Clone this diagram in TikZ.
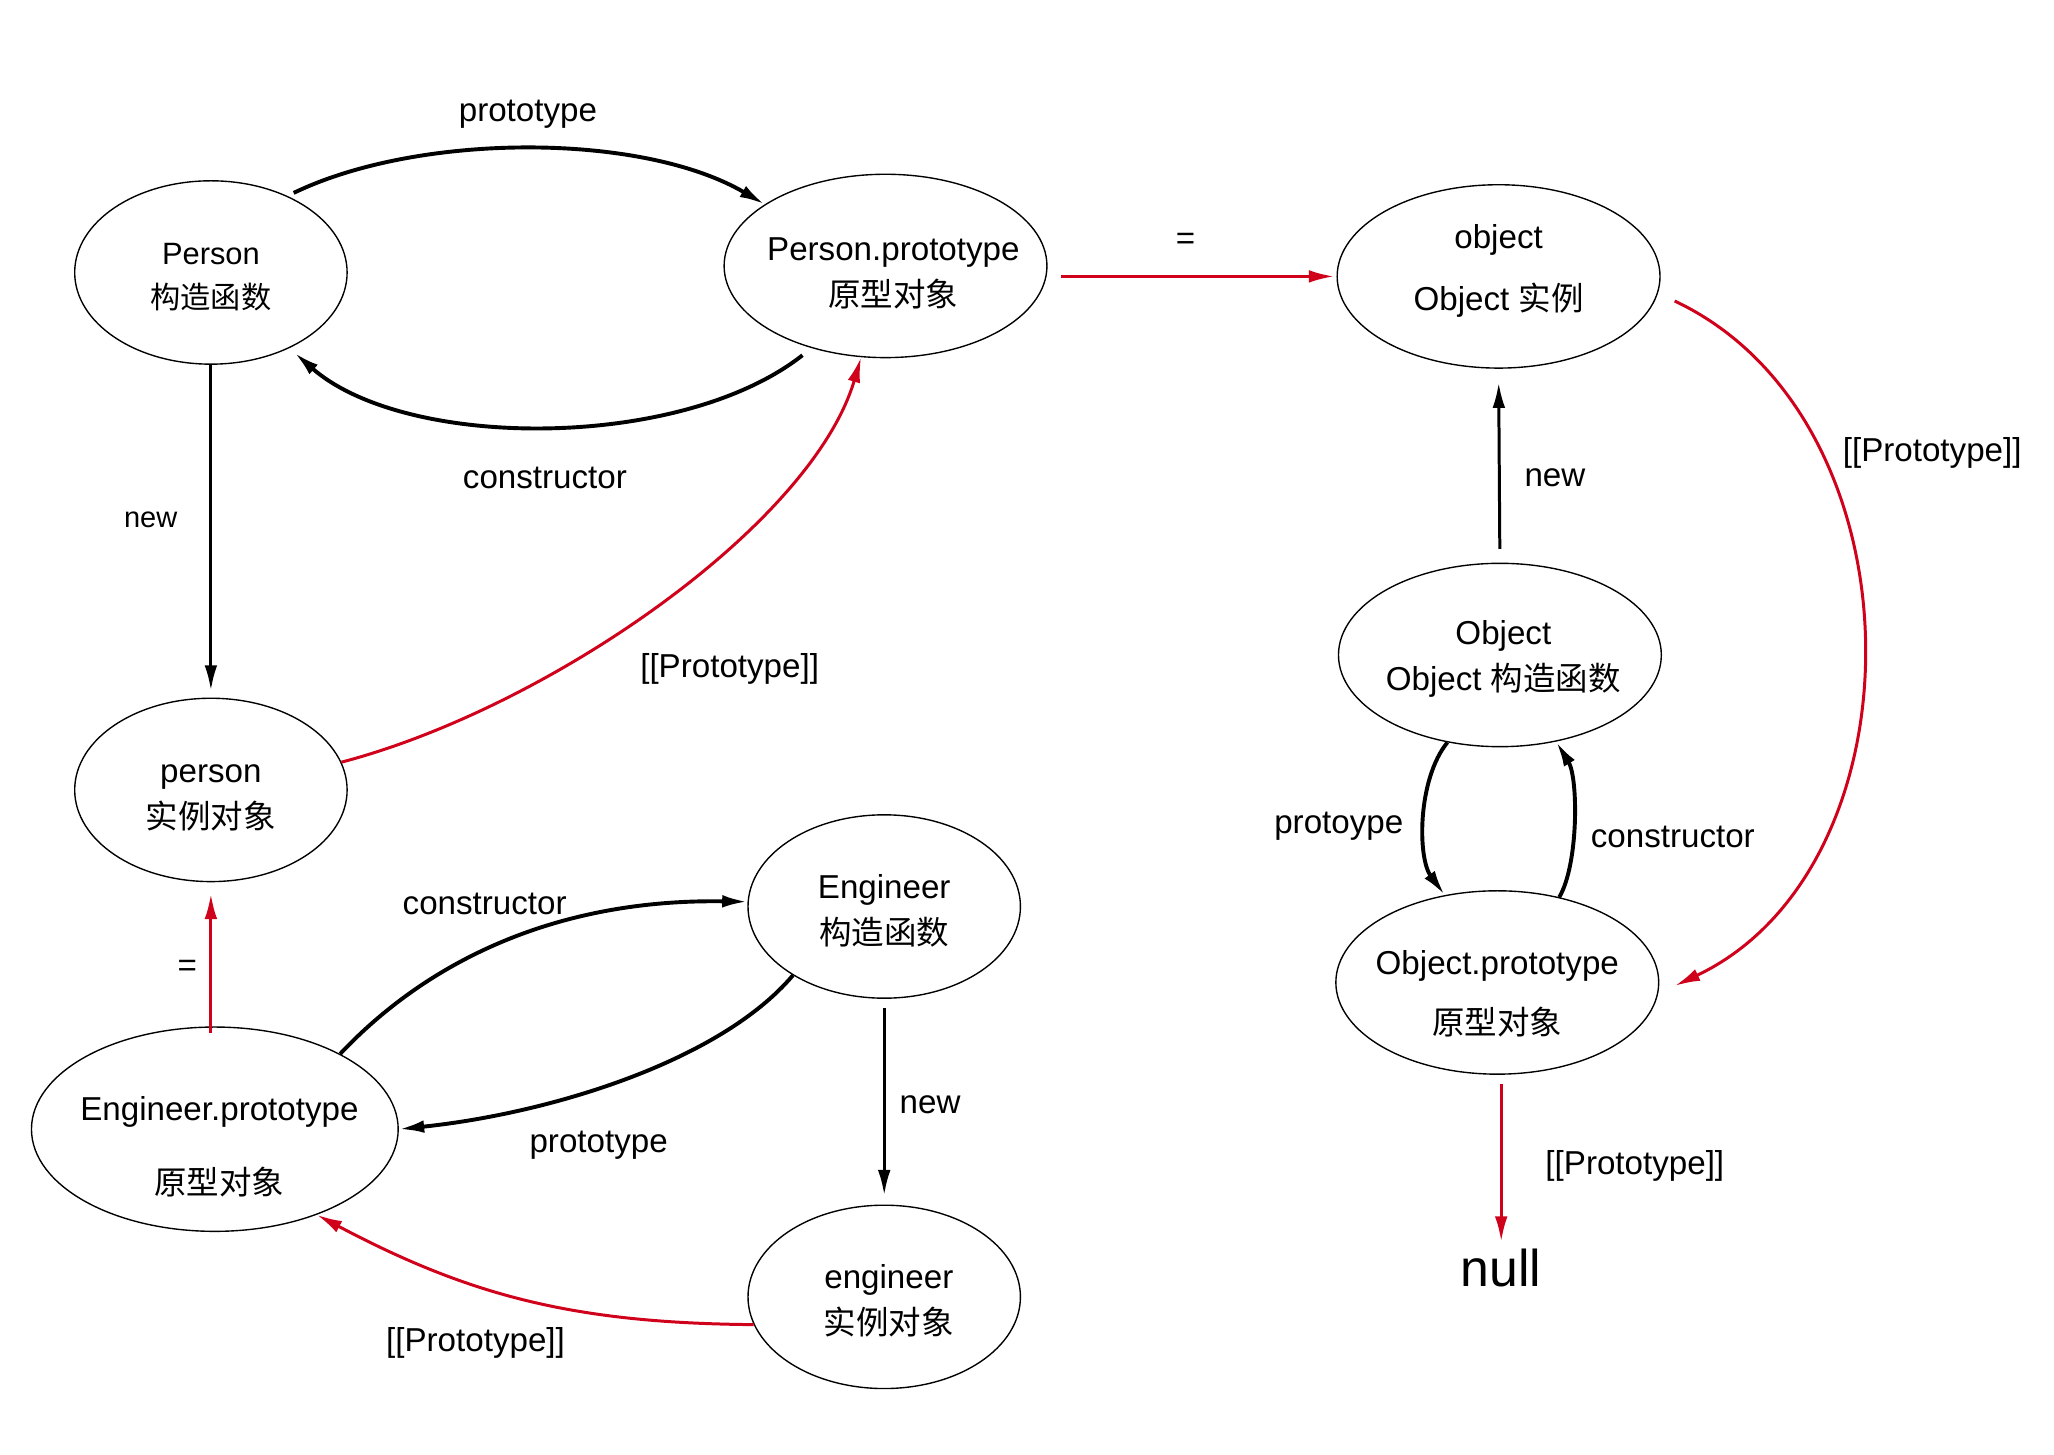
\documentclass[tikz,border=0pt]{standalone}
\usepackage{fontspec}
\setmainfont{Liberation Sans}
\newfontfamily\cjk[Scale=0.98]{Noto Sans CJK SC}
\usetikzlibrary{arrows.meta,shapes.geometric}
\definecolor{jsred}{RGB}{208,2,27}
\begin{document}
\begin{tikzpicture}[x=0.02cm, y=-0.02cm, >={Latex[length=11pt,width=5.5pt]},
    obj/.style={draw, ellipse, inner sep=0pt, line width=.6pt, minimum width=4.16cm, minimum height=2.8cm},
    wide/.style={obj, minimum width=4.93cm},
    txt/.style={align=center, font=\fontsize{14.4}{20}\selectfont},
    tag/.style={inner sep=1pt, yshift=-1.7pt, font=\fontsize{14.4}{17}\selectfont},
    link/.style={->, line width=1.7pt},
    step link/.style={->, line width=1.3pt},
    proto/.style={->, line width=1.3pt, draw=jsred}]
    \useasboundingbox (0,0) rectangle (1568,1110);
    \node[obj] (P) at (161,208) {};
    \node[wide] (PP) at (676,203) {};
    \node[wide] (obj) at (1144,211) {};
    \node[wide] (Obj) at (1145,500) {};
    \node[wide] (OPr) at (1143,750) {};
    \node[obj] (per) at (161,603) {};
    \node[obj] (Eng) at (675,692) {};
    \node[obj, minimum width=5.6cm, minimum height=3.12cm] (EP) at (164,862) {};
    \node[obj] (eng) at (675,990) {};
    \node[txt, yshift=-2pt, font=\fontsize{13.4}{19}\selectfont] (Ptxt) at (P) {Person\\{\cjk 构造函数}};
    \node[txt, xshift=3.4pt, yshift=-3.4pt] (PPtxt) at (PP) {Person.prototype\\{\cjk 原型对象}};
    \node[txt, yshift=2.3pt] (objtxt) at (obj) {object\\[7pt]Object {\cjk 实例}};
    \node[txt, xshift=1.5pt, yshift=-1.7pt] (Objtxt) at (Obj) {Object\\Object {\cjk 构造函数}};
    \node[txt, yshift=-4.8pt] (OPrtxt) at (OPr) {Object.prototype\\[6pt]{\cjk 原型对象}};
    \node[txt, yshift=-3.4pt] (pertxt) at (per) {person\\{\cjk 实例对象}};
    \node[txt, yshift=-2pt] (Engtxt) at (Eng) {Engineer\\{\cjk 构造函数}};
    \node[txt, yshift=-7.6pt, xshift=2pt] (EPtxt) at (EP) {Engineer.prototype\\[12pt]{\cjk 原型对象}};
    \node[txt, xshift=2pt, yshift=-1.5pt] (engtxt) at (eng) {engineer\\{\cjk 实例对象}};
    \node[inner sep=1pt, font=\fontsize{22.5}{24}\selectfont] (null) at (1146,968) {null};

    \draw[link, shorten <=3pt] (P.45) .. controls (320,101) and (490,101) .. (PP.153);
    \node[tag] (t1) at (403,84) {prototype};
    \draw[link, shorten <=5pt, shorten >=3pt] (PP.228) .. controls (520,344) and (310,344) .. (P.316);
    \node[tag] (t2) at (416,362) {constructor};
    \draw[step link, shorten >=3pt] (P.south) -- (per.north);
    \node[tag, font=\fontsize{12.6}{15}\selectfont] (t3) at (115,394) {new};
    \draw[proto] (per.12) .. controls (420,540) and (620,400) .. (PP.255);
    \node[tag] (t4) at (557,508) {[[Prototype]]};
    \draw[proto, shorten <=6pt, shorten >=1pt] (PP.east |- obj.west) -- (obj.west);
    \node[tag] (t5) at (905,181) {=};
    \draw[proto, shorten <=8pt, shorten >=8pt] (obj.-6) .. controls (1470,320) and (1470,662) .. (OPr.-4);
    \node[tag] (t6) at (1475,343) {[[Prototype]]};
    \draw[step link, shorten <=6pt, shorten >=6pt] (Obj.north) -- (obj.south);
    \node[tag] (t7) at (1187,362) {new};
    \draw[link] (Obj.239) .. controls (1082,595) and (1082,655) .. (OPr.121);
    \node[tag] (t8) at (1022,628) {protoype};
    \draw[link] (OPr.54) .. controls (1205,660) and (1205,594) .. (Obj.303);
    \node[tag] (t9) at (1277,636) {constructor};
    \draw[proto, shorten <=4pt, shorten >=2pt] (null.north |- OPr.south) -- (null.north);
    \node[tag] (t10) at (1248,887) {[[Prototype]]};
    \draw[proto, shorten <=-3pt, shorten >=5pt] (per.south |- EP.north) -- (per.south);
    \node[tag] (t11) at (143,736) {=};
    \draw[link] (EP.31) .. controls (330,730) and (430,686) .. (Eng.178);
    \node[tag] (t12) at (370,687) {constructor};
    \draw[link] (Eng.217) .. controls (550,810) and (420,850) .. (EP.east);
    \node[tag] (t13) at (457,871) {prototype};
    \draw[step link, shorten <=4pt, shorten >=4pt] (Eng.south) -- (eng.north);
    \node[tag] (t14) at (710,840) {new};
    \draw[proto] (eng.192) .. controls (440,1010) and (360,990) .. (EP.320);
    \node[tag] (t15) at (363,1022) {[[Prototype]]};
\end{tikzpicture}
\end{document}
